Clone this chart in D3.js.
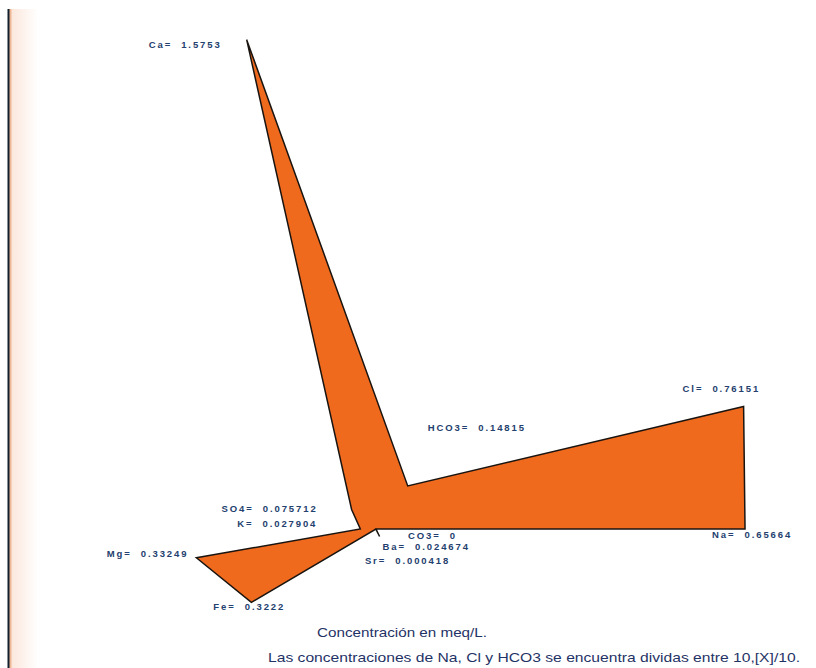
<!DOCTYPE html>
<html>
<head>
<meta charset="utf-8">
<script src="https://cdn.jsdelivr.net/npm/d3@7"></script>
<style>
  html, body { margin: 0; padding: 0; background: #ffffff; }
  svg { display: block; }
  .ion { font-family: "Liberation Sans", Arial, sans-serif; font-size: 9.5px; font-weight: bold; letter-spacing: 1.9px; fill: #23406e; white-space: pre; }
  .note { font-family: "Liberation Sans", Arial, sans-serif; font-size: 13.5px; fill: #1f3366; }
</style>
</head>
<body>
<svg id="chart" width="816" height="668"></svg>
<script>
// Ions in drawing order around the polygon and their concentrations (meq/L)
const ions = ["Ca", "HCO3", "Cl", "Na", "CO3", "Ba", "Sr", "Fe", "Mg", "K", "SO4"];
const values = [1.5753, 0.14815, 0.76151, 0.65664, 0, 0.024674, 0.000418, 0.3222, 0.33249, 0.027904, 0.075712];
const valueText = ["1.5753", "0.14815", "0.76151", "0.65664", "0", "0.024674", "0.000418", "0.3222", "0.33249", "0.027904", "0.075712"];

// Direction of each ion's ray (degrees, counter-clockwise from the right)
const angles = [98.4, 67.6, 30.8, 0, -30, -75, -120, 226.5, 196, 180, 125];
// Label placement relative to each vertex: [dx, dy, anchor]
const labelPos = [
  [-25, 8, "end"], [20, -55, "start"], [-61, -15, "start"], [-33, 9, "start"],
  [32, 10, "start"], [3, 14, "start"], [-11, 35, "start"], [-38, 8, "start"],
  [-8, -1, "end"], [-43, -2, "end"], [-34, 2, "end"]
];

const title = "Concentración en meq/L.";
const footnote = "Las concentraciones de Na, Cl y HCO3 se encuentra dividas entre 10,[X]/10.";

const svg = d3.select("#chart");

// Soft tint fading out to the right of the frame line
const grad = svg.append("defs").append("linearGradient")
  .attr("id", "edgeTint").attr("x1", 0).attr("x2", 1).attr("y1", 0).attr("y2", 0);
grad.append("stop").attr("offset", 0).attr("stop-color", "#fbe6da");
grad.append("stop").attr("offset", 1).attr("stop-color", "#ffffff");
svg.append("rect")
  .attr("x", 10).attr("y", 9).attr("width", 28).attr("height", 659)
  .attr("fill", "url(#edgeTint)");

// Frame line on the left edge
svg.append("line")
  .attr("x1", 10).attr("x2", 10).attr("y1", 9).attr("y2", 668)
  .attr("stroke", "#f1b898").attr("stroke-width", 3);
svg.append("line")
  .attr("x1", 8.5).attr("x2", 8.5).attr("y1", 9).attr("y2", 668)
  .attr("stroke", "#10202c").attr("stroke-width", 2);

// Horizontal and vertical concentration scales (shared origin)
const x = d3.scaleLinear().domain([0, 1]).range([376, 938]);
const y = d3.scaleLinear().domain([0, 1]).range([529, 215]);

const rad = d => d * Math.PI / 180;
const pts = ions.map((ion, i) => {
  const v = values[i], a = rad(angles[i]);
  return { ion, v, text: valueText[i], px: x(v * Math.cos(a)), py: y(v * Math.sin(a)), lp: labelPos[i] };
});

// Concentration polygon
svg.append("path")
  .attr("d", d3.line().x(d => d.px).y(d => d.py)(pts) + "Z")
  .attr("fill", "#f06a1e")
  .attr("stroke", "#1a1410")
  .attr("stroke-width", 1.5)
  .attr("stroke-linejoin", "miter");

// Ion value labels
svg.selectAll("text.ion")
  .data(pts)
  .join("text")
  .attr("class", "ion")
  .attr("x", d => d.px + d.lp[0])
  .attr("y", d => d.py + d.lp[1])
  .attr("text-anchor", d => d.lp[2])
  .text(d => d.ion + "=  " + d.text);

// Axis title and footnote
svg.append("text").attr("class", "note")
  .attr("x", 402).attr("y", 637).attr("text-anchor", "middle")
  .attr("textLength", 170).attr("lengthAdjust", "spacingAndGlyphs")
  .text(title);
svg.append("text").attr("class", "note")
  .attr("x", 534).attr("y", 662).attr("text-anchor", "middle")
  .attr("textLength", 532).attr("lengthAdjust", "spacingAndGlyphs")
  .text(footnote);
</script>
</body>
</html>
